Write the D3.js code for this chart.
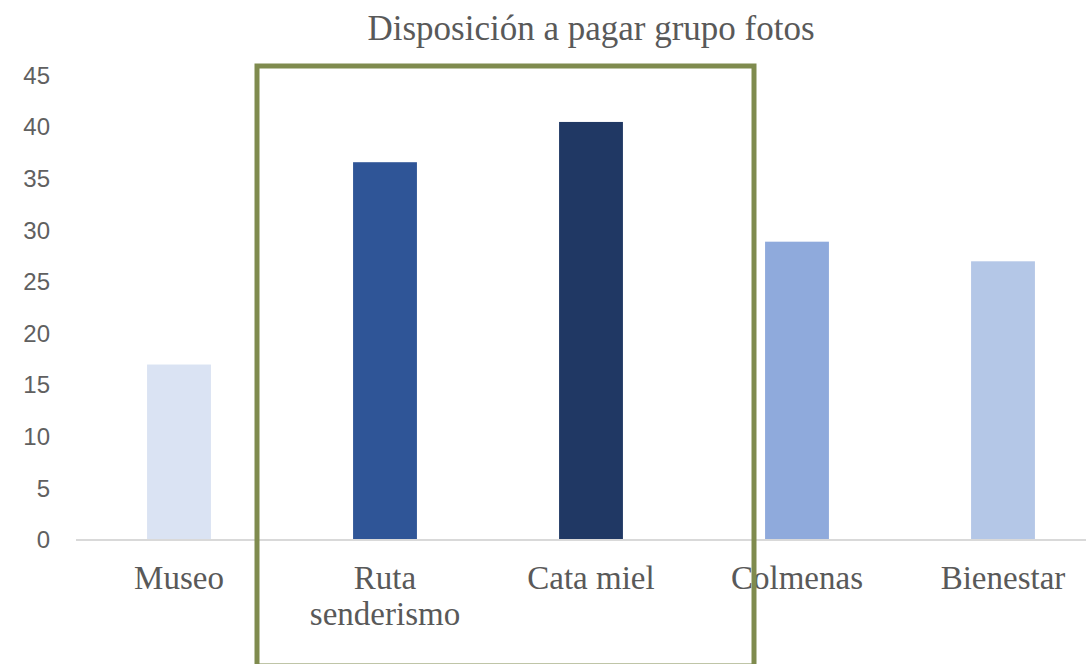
<!DOCTYPE html>
<html>
<head>
<meta charset="utf-8">
<script src="https://cdn.jsdelivr.net/npm/d3@7"></script>
<style>
  body { margin: 0; background: #fff; }
  svg { display: block; }
</style>
</head>
<body>
<script>
var categories = ["Museo", "Ruta senderismo", "Cata miel", "Colmenas", "Bienestar"];
var values = [17, 36.6, 40.5, 28.9, 27];
var colors = ["#dae3f3", "#2f5597", "#203864", "#8faadc", "#b4c7e7"];
var yTicks = [0, 5, 10, 15, 20, 25, 30, 35, 40, 45];
var title = "Disposición a pagar grupo fotos";

var width = 1086, height = 664;
var plot = {left: 76, right: 1106, top: 75.5, bottom: 540};

var svg = d3.select("body").append("svg")
    .attr("width", width)
    .attr("height", height);

var x = d3.scaleBand()
    .domain(categories)
    .range([plot.left, plot.right])
    .paddingInner(0.69)
    .paddingOuter(0.345);

var y = d3.scaleLinear()
    .domain([0, 45])
    .range([plot.bottom, plot.top]);

// title
svg.append("text")
    .attr("x", (plot.left + plot.right) / 2)
    .attr("y", 40)
    .attr("text-anchor", "middle")
    .style("font-family", "'Liberation Serif', 'Times New Roman', serif")
    .style("font-size", "35px")
    .style("fill", "#595959")
    .text(title);

// y axis labels (no line)
var yAxis = svg.append("g")
    .attr("transform", "translate(" + (plot.left - 26) + ",0)")
    .call(d3.axisLeft(y).tickValues(yTicks).tickSize(0).tickPadding(0));
yAxis.select(".domain").remove();
yAxis.selectAll("text")
    .style("font-family", "'Liberation Sans', Arial, sans-serif")
    .style("font-size", "24px")
    .style("fill", "#606060");

// bars
svg.selectAll("rect.bar")
    .data(categories)
  .enter().append("rect")
    .attr("class", "bar")
    .attr("x", function(d) { return x(d); })
    .attr("width", x.bandwidth())
    .attr("y", function(d, i) { return y(values[i]); })
    .attr("height", function(d, i) { return y(0) - y(values[i]); })
    .style("fill", function(d, i) { return colors[i]; });

// x axis line
svg.append("line")
    .attr("x1", plot.left)
    .attr("x2", width)
    .attr("y1", y(0))
    .attr("y2", y(0))
    .style("stroke", "#d9d9d9")
    .style("stroke-width", 2);

// x labels, wrapped
var xl = svg.selectAll("text.xlab")
    .data(categories)
  .enter().append("text")
    .attr("class", "xlab")
    .attr("text-anchor", "middle")
    .style("font-family", "'Liberation Serif', 'Times New Roman', serif")
    .style("font-size", "33px")
    .style("fill", "#595959");

xl.each(function(d) {
  var lines = d === "Ruta senderismo" ? d.split(" ") : [d];
  var t = d3.select(this);
  lines.forEach(function(l, j) {
    t.append("tspan")
        .attr("x", x(d) + x.bandwidth() / 2)
        .attr("y", 589 + j * 36)
        .text(l);
  });
});

// highlight box
svg.append("rect")
    .attr("x", 257)
    .attr("y", 66)
    .attr("width", 497)
    .attr("height", 600)
    .style("fill", "none")
    .style("stroke", "#7f8b4e")
    .style("stroke-width", 5);
</script>
</body>
</html>
